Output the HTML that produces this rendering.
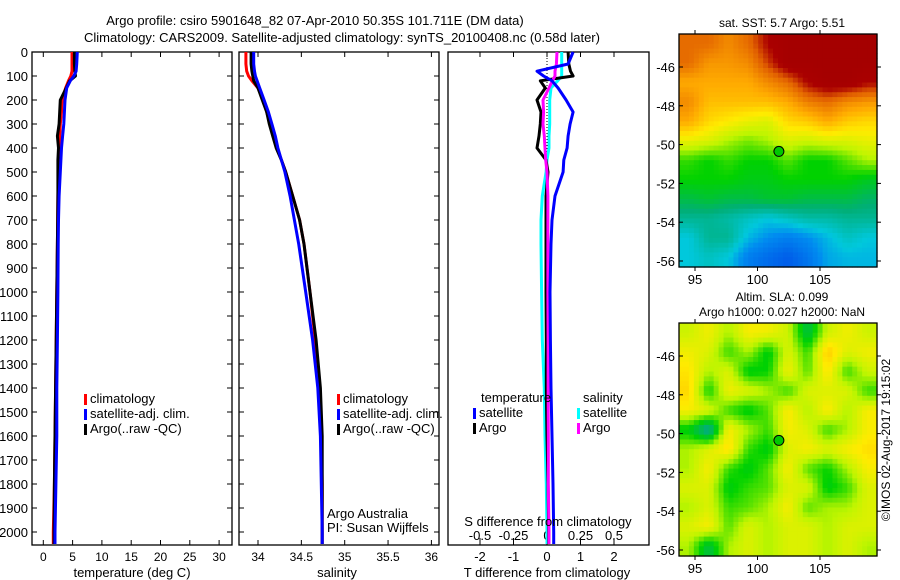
<!DOCTYPE html>
<html><head><meta charset="utf-8"><style>
body{margin:0;background:#fff;}
svg{display:block;font-family:"Liberation Sans",sans-serif;}
</style></head><body>
<svg id="fig" width="900" height="580">
<text x="315" y="25" font-size="13" text-anchor="middle">Argo profile: csiro 5901648_82 07-Apr-2010 50.35S 101.711E (DM data)</text>
<text x="342" y="42" font-size="13" text-anchor="middle">Climatology: CARS2009. Satellite-adjusted climatology: synTS_20100408.nc (0.58d later)</text>
<g id="g1"></g>
<g id="g2"></g>
<g id="g3"></g>
<g id="m1"></g>
<g id="m2"></g>
<text transform="translate(890,440) rotate(-90)" font-size="12" text-anchor="middle">©IMOS 02-Aug-2017 19:15:02</text>
</svg>
<script>
const depths=[0,50,80,100,120,150,200,250,300,350,400,450,500,600,700,800,1000,1200,1400,1600,1800,2000,2050];
const tempClim=[4.9,4.9,4.9,4.7,4.3,3.8,3.2,3.1,2.9,2.8,2.7,2.6,2.6,2.5,2.45,2.4,2.3,2.2,2.1,2.0,1.9,1.7,1.7];
const tempSat=[5.8,5.7,5.6,5.2,4.6,4.0,3.7,3.6,3.5,3.3,3.1,3.0,2.9,2.7,2.6,2.55,2.5,2.4,2.3,2.3,2.15,2.0,2.0];
const tempArgo=[5.3,5.3,5.4,5.5,4.5,3.9,2.9,2.8,2.7,2.4,2.6,2.5,2.5,2.5,2.45,2.4,2.3,2.2,2.1,2.0,1.9,1.85,1.85];
const salClim=[33.86,33.86,33.87,33.89,33.93,34.0,34.06,34.1,34.14,34.18,34.22,34.27,34.32,34.4,34.48,34.53,34.6,34.66,34.71,34.73,34.74,34.74,34.74];
const salSat=[33.95,33.95,33.96,33.97,33.99,34.02,34.07,34.12,34.16,34.2,34.23,34.27,34.31,34.37,34.42,34.47,34.55,34.63,34.69,34.72,34.73,34.74,34.74];
const salArgo=[33.92,33.92,33.93,33.94,33.95,34.0,34.05,34.1,34.13,34.17,34.21,34.27,34.32,34.4,34.48,34.53,34.6,34.67,34.72,34.74,34.74,34.74,34.74];
const tdiffArgo=[0.63,0.65,0.7,0.78,-0.2,-0.05,-0.3,-0.18,-0.2,-0.24,-0.3,-0.03,0.03,-0.03,-0.03,-0.03,-0.03,-0.02,-0.02,0,0.03,0.05,0.05];
const tdiffSat=[0.78,0.63,-0.3,-0.1,0.15,0.33,0.57,0.78,0.69,0.63,0.6,0.5,0.48,0.24,0.15,0.12,0.09,0.1,0.12,0.15,0.18,0.2,0.2];
const sdiffArgo=[0.075,0.07,0.06,0.06,0.04,0.015,-0.03,-0.025,-0.03,-0.02,-0.015,-0.01,0,0.007,0.007,0.007,0.007,0.008,0.008,0.01,0.01,0.015,0.015];
const sdiffSat=[0.11,0.11,0.11,0.11,0.08,0.03,0.02,0.02,0.02,0.015,0.015,0.0,-0.007,-0.035,-0.045,-0.045,-0.04,-0.035,-0.02,-0.015,-0.005,0,0];
const depthTicks=[0,100,200,300,400,500,600,700,800,900,1000,1100,1200,1300,1400,1500,1600,1700,1800,1900,2000];
const tempTicks=[0,5,10,15,20,25,30];
const salTicks=[34,34.5,35,35.5,36];
const tdTicks=[-2,-1,0,1,2];
const sdTicks=[-0.5,-0.25,0,0.25,0.5];
const sdTickLabels=["-0.5","-0.25","0","0.25","0.5"];
const sstGrid=[
[0.85,0.85,0.8,0.85,0.95,1,1,1,1,1],
[0.85,0.78,0.78,0.8,0.9,1,1,1,1,1],
[0.75,0.75,0.75,0.75,0.8,0.85,0.95,1,1,0.95],
[0.8,0.72,0.72,0.72,0.72,0.75,0.82,0.85,0.8,0.78],
[0.75,0.68,0.65,0.62,0.6,0.68,0.7,0.75,0.7,0.68],
[0.62,0.6,0.55,0.52,0.55,0.6,0.58,0.6,0.6,0.62],
[0.48,0.45,0.48,0.45,0.45,0.5,0.45,0.45,0.5,0.55],
[0.45,0.45,0.45,0.43,0.43,0.45,0.45,0.45,0.45,0.42],
[0.38,0.4,0.38,0.38,0.4,0.4,0.38,0.38,0.38,0.35],
[0.3,0.3,0.28,0.25,0.22,0.25,0.28,0.28,0.3,0.3],
[0.22,0.3,0.3,0.2,0.15,0.12,0.15,0.2,0.25,0.22],
[0.22,0.25,0.22,0.12,0.08,0.05,0.1,0.18,0.2,0.2]];
const slaGrid=[
[.58,.63,.55,.64,.63,.58,.38,.58,.63,.58],
[.63,.6,.48,.55,.43,.6,.48,.7,.6,.63],
[.66,.55,.6,.43,.45,.63,.5,.66,.48,.58],
[.68,.45,.63,.6,.55,.48,.6,.6,.6,.48],
[.64,.6,.48,.43,.5,.65,.55,.65,.55,.64],
[.43,.28,.64,.55,.48,.64,.6,.48,.55,.64],
[.55,.6,.67,.48,.43,.6,.64,.6,.64,.67],
[.55,.64,.48,.43,.5,.64,.5,.45,.55,.64],
[.6,.6,.43,.48,.5,.6,.6,.43,.48,.6],
[.55,.6,.48,.5,.55,.64,.5,.55,.55,.6],
[.6,.64,.5,.6,.55,.6,.6,.55,.6,.6],
[.55,.38,.55,.6,.55,.6,.6,.55,.6,.55]];
const latTicks=[-46,-48,-50,-52,-54,-56];
const lonTicks=[95,100,105];
const argoLon=101.711, argoLat=-50.35;

const NS='http://www.w3.org/2000/svg';
function el(p,t,a){const e=document.createElementNS(NS,t);for(const k in a)e.setAttribute(k,a[k]);p.appendChild(e);return e;}
function txt(p,x,y,s,a){const e=el(p,'text',Object.assign({x:x,y:y,'font-size':12},a||{}));e.textContent=s;return e;}
const yTop=52, yPx=0.24;
const yD=d=>yTop+d*yPx;
const xT=v=>43.3+v*5.86;
const xS=v=>258+(v-34)*86.7;
const xTD=v=>547+v*33.5;
const xSD=v=>547+v*134;

function frame(g,x0,x1,y0,y1){
  const r=el(g,'rect',{x:x0,y:y0,width:x1-x0,height:y1-y0,fill:'none',stroke:'#000','stroke-width':1.3});
  
  depthTicks.forEach(d=>{el(g,'line',{x1:x0,x2:x0+5,y1:yD(d),y2:yD(d),stroke:'#000'});el(g,'line',{x1:x1,x2:x1-5,y1:yD(d),y2:yD(d),stroke:'#000'});});
}
function xticks(g,ticks,fx,y0,y1,labels,ly){
  ticks.forEach((t,i)=>{const x=fx(t);el(g,'line',{x1:x,x2:x,y1:y0,y2:y0+5,stroke:'#000'});el(g,'line',{x1:x,x2:x,y1:y1,y2:y1-5,stroke:'#000'});
    if(labels){const e=txt(g,x,ly,labels[i],{'text-anchor':'middle'});}});
}
function line(g,xs,fx,color,name){
  const pts=depths.map((d,i)=>fx(xs[i]).toFixed(1)+','+yD(d).toFixed(1));
  const p=el(g,'polyline',{points:pts.join(' '),fill:'none',stroke:color,'stroke-width':3,'stroke-linejoin':'round'});
  
}
function legend(g,x,y,items){
  items.forEach((it,i)=>{el(g,'rect',{x:x,y:y+i*15-9,width:3,height:11,fill:it[1]});
    const e=txt(g,x+6,y+i*15,it[0],{'font-size':13});});
}
// Panel 1
const g1=document.getElementById('g1');
frame(g1,32,232,52,545);
depthTicks.forEach(d=>{const e=txt(g1,28,yD(d)+5,String(d),{'text-anchor':'end','font-size':13});});
xticks(g1,tempTicks,xT,52,545,tempTicks.map(String),561);
line(g1,tempClim,xT,'#f00','temp-climatology-line');
line(g1,tempArgo,xT,'#000','temp-argo-line');
line(g1,tempSat,xT,'#00f','temp-satellite-line');
legend(g1,84,403,[['climatology','#f00'],['satellite-adj. clim.','#00f'],['Argo(..raw -QC)','#000']]);
let e=txt(g1,132,577,'temperature (deg C)',{'text-anchor':'middle','font-size':13});
// Panel 2
const g2=document.getElementById('g2');
frame(g2,239,439,52,545);
xticks(g2,salTicks,xS,52,545,salTicks.map(String),561);
line(g2,salClim,xS,'#f00','sal-climatology-line');
line(g2,salArgo,xS,'#000','sal-argo-line');
line(g2,salSat,xS,'#00f','sal-satellite-line');
legend(g2,337,403,[['climatology','#f00'],['satellite-adj. clim.','#00f'],['Argo(..raw -QC)','#000']]);
e=txt(g2,337,577,'salinity',{'text-anchor':'middle','font-size':13});
e=txt(g2,327,518,'Argo Australia',{'font-size':13});
e=txt(g2,327,532,'PI: Susan Wijffels',{'font-size':13});
// Panel 3
const g3=document.getElementById('g3');
el(g3,'rect',{x:448,y:52,width:201,height:493,fill:'none',stroke:'#000','stroke-width':1.3});
tdTicks.forEach(t=>{const x=xTD(t);el(g3,'line',{x1:x,x2:x,y1:52,y2:57,stroke:'#000'});el(g3,'line',{x1:x,x2:x,y1:545,y2:540,stroke:'#000'});
  const e=txt(g3,x,561,String(t),{'text-anchor':'middle','font-size':13});});
sdTicks.forEach((t,i)=>{const x=xSD(t);el(g3,'line',{x1:x,x2:x,y1:545,y2:538,stroke:'#000'});
  const e=txt(g3,x,540,sdTickLabels[i],{'text-anchor':'middle','font-size':13});});
el(g3,'line',{x1:xTD(0),x2:xTD(0),y1:52,y2:yD(700),stroke:'#000','stroke-dasharray':'1,2'});
line(g3,sdiffSat,xSD,'#0ff','sdiff-satellite-line');
line(g3,tdiffArgo,xTD,'#000','tdiff-argo-line');
line(g3,sdiffArgo,xSD,'#f0f','sdiff-argo-line');
line(g3,tdiffSat,xTD,'#00f','tdiff-satellite-line');
e=txt(g3,481,402,'temperature',{'font-size':13,fill:'#000'});
e=txt(g3,583,402,'salinity',{'font-size':13});
legend(g3,473,417,[['satellite','#00f'],['Argo','#000']]);
legend(g3,577,417,[['satellite','#0ff'],['Argo','#f0f']]);
e=txt(g3,548,526,'S difference from climatology',{'text-anchor':'middle','font-size':13});
e=txt(g3,547,577,'T difference from climatology',{'text-anchor':'middle','font-size':13});
// Maps
const stops=[[0,[0,70,230]],[0.15,[0,140,240]],[0.22,[0,200,220]],[0.33,[0,175,120]],[0.45,[0,210,0]],[0.56,[190,245,0]],[0.65,[255,235,0]],[0.75,[255,170,0]],[0.87,[225,95,0]],[0.95,[170,0,0]],[1,[165,0,0]]];
function cmap(v){for(let i=1;i<stops.length;i++){if(v<=stops[i][0]){const a=stops[i-1],b=stops[i],t=(v-a[0])/(b[0]-a[0]);return 'rgb('+a[1].map((c,j)=>Math.round(c+(b[1][j]-c)*t)).join(',')+')';}}return 'rgb(165,0,0)';}
function sample(grid,fr,fc){
  const nr=grid.length,nc=grid[0].length;
  fr=Math.max(0,Math.min(nr-1,fr));fc=Math.max(0,Math.min(nc-1,fc));
  const r0=Math.floor(fr),c0=Math.floor(fc),r1=Math.min(nr-1,r0+1),c1=Math.min(nc-1,c0+1),tr=fr-r0,tc=fc-c0;
  const a=grid[r0][c0]*(1-tc)+grid[r0][c1]*tc,b=grid[r1][c0]*(1-tc)+grid[r1][c1]*tc;
  return a*(1-tr)+b*tr;
}
function map(id,grid,x0,y0,lat46y,title){
  const g=document.getElementById(id),W=198,H=233;
  const nr=grid.length,nc=grid[0].length,S=4;
  const cw=W/(nc*S),ch=H/(nr*S);
  for(let r=0;r<nr*S;r++)for(let c=0;c<nc*S;c++){
    const v=sample(grid,(r+0.5)/S-0.5,(c+0.5)/S-0.5);
    const rc=el(g,'rect',{x:(x0+c*cw).toFixed(2),y:(y0+r*ch).toFixed(2),width:(cw+0.6).toFixed(2),height:(ch+0.6).toFixed(2),fill:cmap(v)});
    
  }
  el(g,'rect',{x:x0,y:y0,width:W,height:H,fill:'none',stroke:'#000','stroke-width':1.3});
  const ly=lat=>lat46y+(-46-lat)*19.4, lx=lon=>695+(lon-95)*12.5;
  latTicks.forEach(l=>{const y=ly(l);el(g,'line',{x1:x0,x2:x0+4,y1:y,y2:y,stroke:'#000'});el(g,'line',{x1:x0+W,x2:x0+W+4,y1:y,y2:y,stroke:'#000'});
    const e=txt(g,x0-4,y+5,String(l),{'text-anchor':'end','font-size':13});});
  lonTicks.forEach(l=>{const x=lx(l);el(g,'line',{x1:x,x2:x,y1:y0,y2:y0-4,stroke:'#000'});el(g,'line',{x1:x,x2:x,y1:y0+H,y2:y0+H+4,stroke:'#000'});
    const e=txt(g,x,y0+H+17,String(l),{'text-anchor':'middle','font-size':13});});
  const c=el(g,'circle',{cx:lx(argoLon),cy:ly(argoLat),r:5,fill:'#00c800',stroke:'#000','stroke-width':1});
  
  title.forEach((t,i)=>{const e=txt(g,782,y0-(title.length-i-1)*15-7,t,{'text-anchor':'middle','font-size':12});});
}
map('m1',sstGrid,679,34,67,['sat. SST: 5.7 Argo: 5.51']);
map('m2',slaGrid,679,323,356,['Altim. SLA: 0.099','Argo h1000: 0.027 h2000: NaN']);
</script>
</body></html>
